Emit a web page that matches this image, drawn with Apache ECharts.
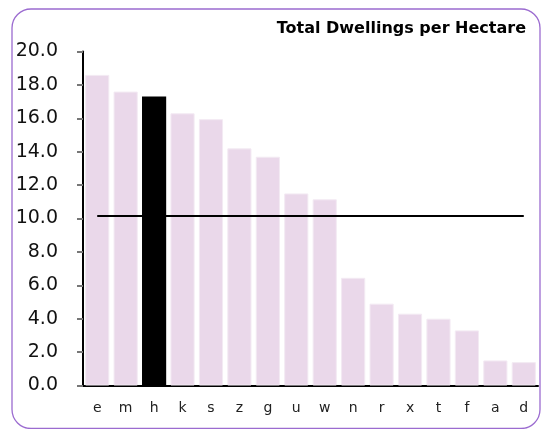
<!DOCTYPE html>
<html>
<head>
<meta charset="utf-8">
<script src="https://cdn.jsdelivr.net/npm/echarts@6/dist/echarts.min.js"></script>
<style>
html,body{margin:0;padding:0;background:#fff;}
#chart{width:545px;height:429px;}
</style>
</head>
<body>
<div id="chart"></div>
<script>
var titleText = 'Total Dwellings per Hectare';
var categories = ['e','m','h','k','s','z','g','u','w','n','r','x','t','f','a','d'];
var dwellings = [18.6, 17.6, 17.3, 16.3, 15.95, 14.2, 13.7, 11.5, 11.15, 6.45, 4.9, 4.3, 4.0, 3.3, 1.5, 1.4];
var referenceLine = [10.15, 10.15, 10.15, 10.15, 10.15, 10.15, 10.15, 10.15, 10.15, 10.15, 10.15, 10.15, 10.15, 10.15, 10.15, 10.15];
var highlightCategory = 'h';
var yTicks = ['0.0','2.0','4.0','6.0','8.0','10.0','12.0','14.0','16.0','18.0','20.0'];

var FONT = 'DejaVu Sans, Verdana, sans-serif';
var chart = echarts.init(document.getElementById('chart'), null, {renderer: 'canvas'});

var barData = dwellings.map(function (v, i) {
  var isHi = categories[i] === highlightCategory;
  return {
    value: v,
    itemStyle: isHi ? {color: '#000000', borderWidth: 0} : {color: '#EAD8EA', borderColor: '#F3EAF3', borderWidth: 1}
  };
});

chart.setOption({
  animation: false,
  backgroundColor: '#ffffff',
  title: {
    text: titleText,
    right: 14,
    top: 16,
    textStyle: {fontFamily: FONT, fontWeight: 'bold', fontSize: 16, color: '#000'}
  },
  graphic: [{
    type: 'rect',
    silent: true,
    z: 100,
    shape: {x: 12, y: 9, width: 528, height: 419.5, r: 19},
    style: {fill: 'none', stroke: '#9B6BD0', lineWidth: 1.3}
  }],
  grid: {left: 83, right: 7, top: 51.5, bottom: 43.5, containLabel: false},
  xAxis: {
    type: 'category',
    data: categories,
    axisLine: {show: true, lineStyle: {color: '#000', width: 2}},
    axisTick: {show: false},
    axisLabel: {fontFamily: FONT, fontSize: 14, color: '#222', margin: 16}
  },
  yAxis: {
    type: 'value',
    min: 0,
    max: 20,
    interval: 2,
    splitLine: {show: false},
    axisLine: {show: true, lineStyle: {color: '#000', width: 2}},
    axisTick: {show: true, length: 6, lineStyle: {color: '#777', width: 2}},
    axisLabel: {
      fontFamily: FONT, fontSize: 19, color: '#111', margin: 25,
      formatter: function (v) { return yTicks[Math.round(v / 2)]; }
    }
  },
  series: [{
    type: 'bar',
    data: barData,
    barCategoryGap: '15%',
    z: 2
  }, {
    type: 'line',
    data: referenceLine,
    symbol: 'none',
    lineStyle: {color: '#000', width: 2},
    z: 3
  }]
});
</script>
</body>
</html>
